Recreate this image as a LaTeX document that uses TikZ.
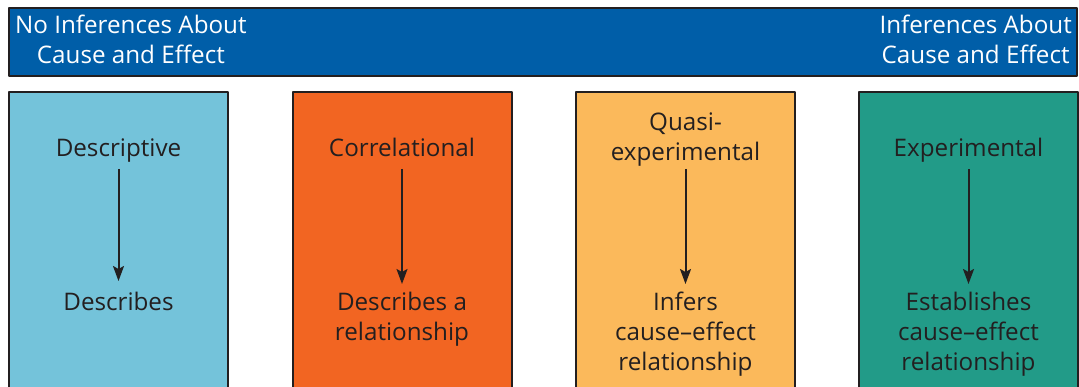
\documentclass[tikz,border=0pt]{standalone}
\usepackage{fontspec}
\setmainfont{Open Sans}
\usetikzlibrary{arrows.meta}
\definecolor{bannerblue}{RGB}{0,94,168}
\definecolor{descblue}{RGB}{116,195,218}
\definecolor{corrorange}{RGB}{242,101,34}
\definecolor{quasiyellow}{RGB}{251,185,91}
\definecolor{exptteal}{RGB}{34,155,136}
\definecolor{edgegray}{RGB}{35,31,32}
\begin{document}
\begin{tikzpicture}[x=1pt,y=-1pt,font=\fontsize{24.2}{30}\selectfont,line join=round,>={Stealth[length=15pt,width=11pt,inset=3pt]}]
	\tikzset{panel style/.style={draw=edgegray,line width=2pt},
		head style/.style={align=center,inner sep=0pt,text=white},
		method style/.style={align=center,anchor=south,inner sep=0pt,text=edgegray,execute at end node=\strut},
		result style/.style={align=center,anchor=north,inner sep=0pt,text=edgegray,execute at begin node=\strut},
		link style/.style={->,draw=edgegray,line width=2pt,shorten <=3pt,shorten >=8pt}}
	\def \ptop{92}
	\def \pbot{400}
	\def \pw{219}
	\useasboundingbox (0,0) rectangle (1079,387);
	\begin{scope}
		\clip (0,0) rectangle (1079,387);
		% banner
		\draw[panel style,fill=bannerblue] (9,8) rectangle (1077,76);
		\node[head style,anchor=north west] (nocause) at (15,15) {No Inferences About\\Cause and Effect};
		\node[head style,anchor=north east] (cause) at (1072,15) {Inferences About\\Cause and Effect};
		% panels
		\draw[panel style,fill=descblue] (9,\ptop) rectangle ++(\pw,\pbot);
		\draw[panel style,fill=corrorange] (292.5,\ptop) rectangle ++(\pw,\pbot);
		\draw[panel style,fill=quasiyellow] (576,\ptop) rectangle ++(\pw,\pbot);
		\draw[panel style,fill=exptteal] (859,\ptop) rectangle ++(\pw,\pbot);
		% methods and what they give
		\node[method style] (desc) at (118.5,166) {Descriptive};
		\node[result style] (descres) at (118.5,289) {Describes};
		\node[method style] (corr) at (402,166) {Correlational};
		\node[result style] (corrres) at (402,292) {Describes a\\relationship};
		\node[method style] (quasi) at (685.5,170) {Quasi-\\experimental};
		\node[result style] (quasires) at (685.5,292) {Infers\\cause--effect\\relationship};
		\node[method style] (expt) at (968.5,166) {Experimental};
		\node[result style] (exptres) at (968.5,292) {Establishes\\cause--effect\\relationship};
		\draw[link style] (desc) -- (descres);
		\draw[link style] (corr) -- (corrres);
		\draw[link style,shorten <=-1pt] (quasi) -- (quasires);
		\draw[link style] (expt) -- (exptres);
	\end{scope}
\end{tikzpicture}
\end{document}
